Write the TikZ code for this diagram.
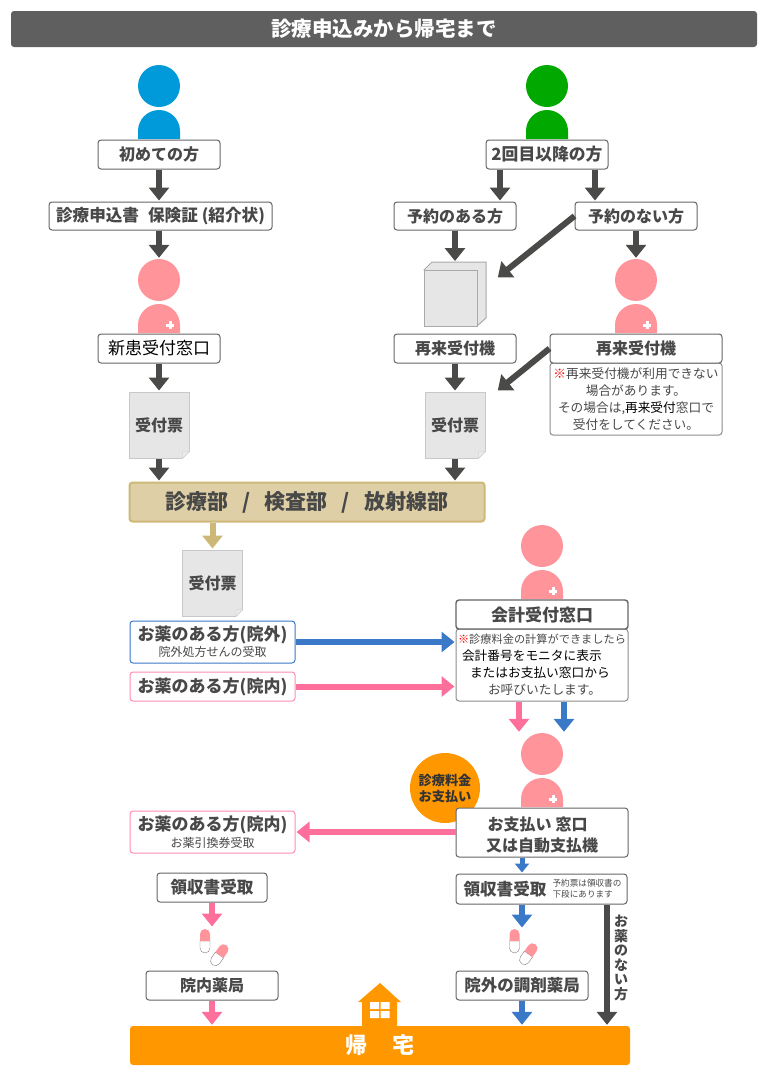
\documentclass[tikz,border=0pt]{standalone}
\usepackage{fontspec}
\setmainfont{Noto Sans CJK JP}
\usetikzlibrary{arrows.meta, positioning}

\definecolor{darkbar}{HTML}{5F5F5F}
\definecolor{arrowgray}{HTML}{4A4A48}
\definecolor{boxline}{HTML}{666666}
\definecolor{textgray}{HTML}{484848}
\definecolor{firstblue}{HTML}{0099D9}
\definecolor{againgreen}{HTML}{00A800}
\definecolor{staffpink}{HTML}{FF949B}
\definecolor{medblue}{HTML}{3A78C8}
\definecolor{medpink}{HTML}{FF6F9C}
\definecolor{tan}{HTML}{DFCFA6}
\definecolor{tanline}{HTML}{CDB878}
\definecolor{homeorange}{HTML}{FF9800}
\definecolor{papergray}{HTML}{E6E6E6}
\definecolor{paperline}{HTML}{C8C8C8}

\tikzset{
    box/.style={draw=boxline, line width=1pt, fill=white, rounded corners=3pt, inner sep=0pt, text=textgray,
        font=\fontsize{16}{21}\selectfont\bfseries, minimum height=29pt, align=center},
    notebox/.style={draw=boxline!75, line width=1pt, fill=white, rounded corners=3pt, inner sep=0pt, text=textgray,
        font=\fontsize{12.7}{17}\selectfont, minimum height=72pt, minimum width=172pt},
    boxtext/.style={text=textgray, inner sep=0pt, font=\fontsize{17}{20}\selectfont\bfseries},
    subtext/.style={text=textgray, inner sep=0pt, font=\fontsize{12}{14}\selectfont},
    thead/.style={circle, fill=#1, minimum size=42pt, inner sep=0pt},
    paper/.style={draw=paperline, line width=1pt, fill=papergray, minimum width=60pt, minimum height=66pt, inner sep=0pt,
        text=textgray, font=\fontsize{16}{20}\selectfont\bfseries},
    flow/.style={->, line width=6pt, draw=#1},
    flow/.default=arrowgray,
    smallflow/.style={-{Triangle[width=14pt,length=9pt]}, line width=5pt, draw=medblue}
}

% head, body and, when it is a member of staff, the white cross
\newcommand{\person}[4]{
    \fill[#4] (#2-21,#3+53) -- (#2-21,#3+45) arc (180:0:21pt) -- (#2+21,#3+53) -- cycle;
    \node[thead=#4] (#1) at (#2,#3) {};
}
\newcommand{\staff}[3]{
    \person{#1}{#2}{#3}{staffpink}
    \fill[white] (#2+7,#3+43.5) rectangle (#2+15,#3+46.5);
    \fill[white] (#2+9.5,#3+41) rectangle (#2+12.5,#3+49);
}
\newcommand{\ticket}[3]{
    \node[paper] (#1) at (#2,#3) {受付票};
    \fill[white] (#1.south east) ++(0.5,0.5) -- ++(-8,0) -- ++(8,-8) -- cycle;
    \filldraw[draw=paperline, fill=white!92!black] (#1.south east) ++(-7,0) -- ++(0,-7) -- ++(7,0) -- cycle;
}
\newcommand{\capsule}[3]{
    \begin{scope}[shift={(#1,#2)}, rotate=#3]
        \filldraw[draw=gray, fill=white] (-5,0) -- (-5,7) arc (180:360:5pt) -- (5,0) -- cycle;
        \fill[staffpink] (-5,0) -- (-5,-7) arc (180:0:5pt) -- (5,0) -- cycle;
    \end{scope}
}

\begin{document}
\begin{tikzpicture}[>={Triangle[width=20pt,length=13pt]}, x=1pt, y=-1pt, shorten >=1pt]
    \useasboundingbox (0,0) rectangle (769,1088);

    \node[fill=darkbar, rounded corners=3pt, minimum width=746pt, minimum height=36pt, inner sep=0pt,
        text=white, font=\fontsize{20.5}{24}\selectfont\bfseries] (title) at (384,29) {診療申込みから帰宅まで};

    % left column
    \person{firsthead}{159}{86}{firstblue}
    \node[box, minimum width=122pt] (first) at (159,154.5) {初めての方};
    \node[box, minimum width=223pt, minimum height=28pt, font=\fontsize{16.6}{21}\selectfont\bfseries] (form) at (160.5,216)
        {診療申込書\hspace{9pt}保険証\hspace{4pt}(紹介状)};
    \staff{newstaff}{159}{280}
    \node[box, minimum width=122pt, text=black, font=\fontsize{17}{21}\selectfont] (newdesk) at (159,348.5) {新患受付窓口};
    \ticket{newticket}{159}{425}

    % right column
    \person{againhead}{547}{86}{againgreen}
    \node[box, minimum width=122pt, font=\fontsize{16.8}{21}\selectfont\bfseries] (again) at (547,154.5) {2回目以降の方};
    \node[box, minimum width=122pt, minimum height=28pt] (booked) at (455,216) {予約のある方};
    \node[box, minimum width=122pt, minimum height=28pt] (nobook) at (636,216) {予約のない方};
    \filldraw[draw=paperline!85!black, line width=1pt, fill=papergray] (424,270) -- (432,262) -- (486,262) -- (486,318) -- (477,326) -- cycle;
    \filldraw[draw=paperline!85!black, fill=papergray, line width=1pt] (424,270) rectangle (477,326.5);
    \coordinate (kioskin) at (497,278);
    \staff{nostaff}{636}{280}
    \node[box, minimum width=122pt] (kiosk) at (455,348.5) {再来受付機};
    \node[notebox] (kiosknote) at (636,399) {\parbox{172pt}{\centering
        \textcolor{red}{※}再来受付機が利用できない\\場合があります。\\その場合は,\textcolor{black}{再来受付}窓口で\\受付をしてください。}};
    \node[box, minimum width=172pt] (kiosk2) at (636,348.5) {再来受付機};
    \coordinate (ticketin) at (497,391);
    \ticket{againticket}{455}{425}

    \node[draw=tanline, line width=2pt, fill=tan, rounded corners=3pt, minimum width=355pt, minimum height=39pt,
        inner sep=0pt, text=textgray, font=\fontsize{21}{25}\selectfont\bfseries] (dept) at (307,502)
        {診療部\hspace{14pt}/\hspace{14pt}検査部\hspace{14pt}/\hspace{14pt}放射線部};

    \draw[flow] (first) -- (first |- form.north);
    \draw[flow] (form.south -| first) -- (newstaff);
    \draw[flow] (newdesk) -- (newticket);
    \draw[flow] (newticket) -- (newticket |- dept.north);
    \draw[flow] ([xshift=-47pt]again.south) -- ([xshift=45pt]booked.north);
    \draw[flow] ([xshift=48pt]again.south) -- ([xshift=-41pt]nobook.north);
    \draw[flow] (booked) -- (booked |- 0,262);
    \draw[flow] (nobook) -- (nostaff);
    \draw[flow] (nobook.west) -- (kioskin);
    \draw[flow] (kiosk) -- (againticket);
    \draw[flow] (kiosk2.west) -- (ticketin);
    \draw[flow] (againticket) -- (againticket |- dept.north);

    % after the departments
    \ticket{deptticket}{212.5}{583}
    \draw[flow=tanline] (dept.south -| deptticket) -- (deptticket);
    \node[box, draw=medblue, minimum width=165pt, minimum height=42pt] (outside) at (212.5,642) {};
    \node[boxtext] (outsidetext) at (212.5,635) {お薬のある方(院外)};
    \node[subtext] (outsidesub) at (212.5,652) {院外処方せんの受取};
    \node[box, draw=medpink!80, minimum width=165pt, font=\fontsize{17}{20}\selectfont\bfseries] (inside) at (212.5,686.5) {お薬のある方(院内)};

    \staff{paystaff}{542}{546}
    \node[notebox] (paynote) at (542,665) {\parbox{172pt}{\raggedright
        \hspace*{2pt}{\fontsize{11.2}{17}\selectfont\textcolor{red}{※}診療料金の計算ができましたら}\\
        \hspace*{6pt}\textcolor{black}{会計番号をモニタに表示}\\
        \hspace*{14pt}\textcolor{black}{またはお支払い窓口から}\\
        \hspace*{32pt}お呼びいたします。}};
    \node[box, line width=1.4pt, minimum width=172pt, font=\fontsize{17}{21}\selectfont\bfseries] (account) at (542,614.5) {会計受付窓口};
    \draw[flow=medblue] (outside) -- (outside -| paynote.west);
    \draw[flow=medpink] (inside) -- (inside -| paynote.west);

    \staff{cashstaff}{542}{754}
    \draw[flow=medpink] ([xshift=-23pt]paynote.south) -- ([xshift=-23pt]paynote.south |- cashstaff.north);
    \draw[flow=medblue] ([xshift=22pt]paynote.south) -- ([xshift=22pt]paynote.south |- cashstaff.north);
    \node[circle, fill=homeorange, minimum size=70pt, inner sep=0pt, text=black!80, align=center,
        font=\fontsize{13.2}{16}\selectfont\bfseries] (paymark) at (445,788) {診療料金\\お支払い};
    \node[box, minimum width=172pt, minimum height=49pt] (cash) at (542,832.5) {};
    \node[boxtext, align=center, font=\fontsize{16}{21}\selectfont\bfseries] (cashtext) at (542,835)
        {お支払い\hspace{4pt}窓口\hspace*{9pt}\\又は自動支払機};
    \node[box, draw=medpink!80, minimum width=165pt, minimum height=42pt] (voucher) at (212.5,832) {};
    \node[boxtext] (vouchertext) at (212.5,825) {お薬のある方(院内)};
    \node[subtext] (vouchersub) at (212.5,843) {お薬引換券受取};
    \draw[flow=medpink] (cash.west |- voucher) -- (voucher);

    % receipts and pharmacies
    \node[box, minimum width=171pt, minimum height=30pt] (receiptout) at (541.5,889) {};
    \node[boxtext, font=\fontsize{16.6}{20}\selectfont\bfseries] (receipttext) at (505,889) {領収書受取};
    \node[text=textgray, inner sep=0pt, align=left, font=\fontsize{8.6}{11}\selectfont] (receiptnote) at (587,889) {予約票は領収書の\\下段にあります};
    \node[box, minimum width=110pt, font=\fontsize{16.6}{21}\selectfont\bfseries] (receiptin) at (212,887.5) {領収書受取};
    \capsule{514.5}{941}{0}
    \capsule{528.5}{954}{-35}
    \capsule{205}{941}{0}
    \capsule{219.5}{955}{-35}
    \node[box, minimum width=132pt, font=\fontsize{16.5}{21}\selectfont\bfseries] (pharmout) at (522,985.5) {院外の調剤薬局};
    \node[box, minimum width=132pt] (pharmin) at (212,985.5) {院内薬局};

    % going home
    \fill[homeorange] (380,983) -- (401,1002) -- (397,1002) -- (397,1027) -- (362,1027) -- (362,1002) -- (358,1002) -- cycle;
    \fill[white] (370,1002) rectangle (379,1009) (380.5,1002) rectangle (389.5,1009)
        (370,1011) rectangle (379,1018) (380.5,1011) rectangle (389.5,1018);
    \node[fill=homeorange, rounded corners=3pt, minimum width=500pt, minimum height=39pt, inner sep=0pt,
        text=white, font=\fontsize{22}{26}\selectfont\bfseries] (home) at (380,1045.5) {帰\hspace{25pt}宅};

    \draw[smallflow] (cash.south -| pharmout) -- (receiptout.north -| pharmout);
    \draw[flow=medblue] (receiptout.south -| pharmout) -- ++(0,24);
    \draw[flow=medblue] (pharmout) -- (pharmout |- home.north);
    \draw[flow=medpink] (receiptin) -- ++(0,40);
    \draw[flow=medpink] (pharmin) -- (pharmin |- home.north);
    \draw[flow] ([xshift=65.5pt]receiptout.south) -- ([xshift=227pt]home.north);
    \node[text=textgray, align=center, inner sep=0pt, font=\fontsize{14}{14.5}\selectfont\bfseries] (nomed) at (621,958)
        {お\\薬\\の\\な\\い\\方};
\end{tikzpicture}
\end{document}
